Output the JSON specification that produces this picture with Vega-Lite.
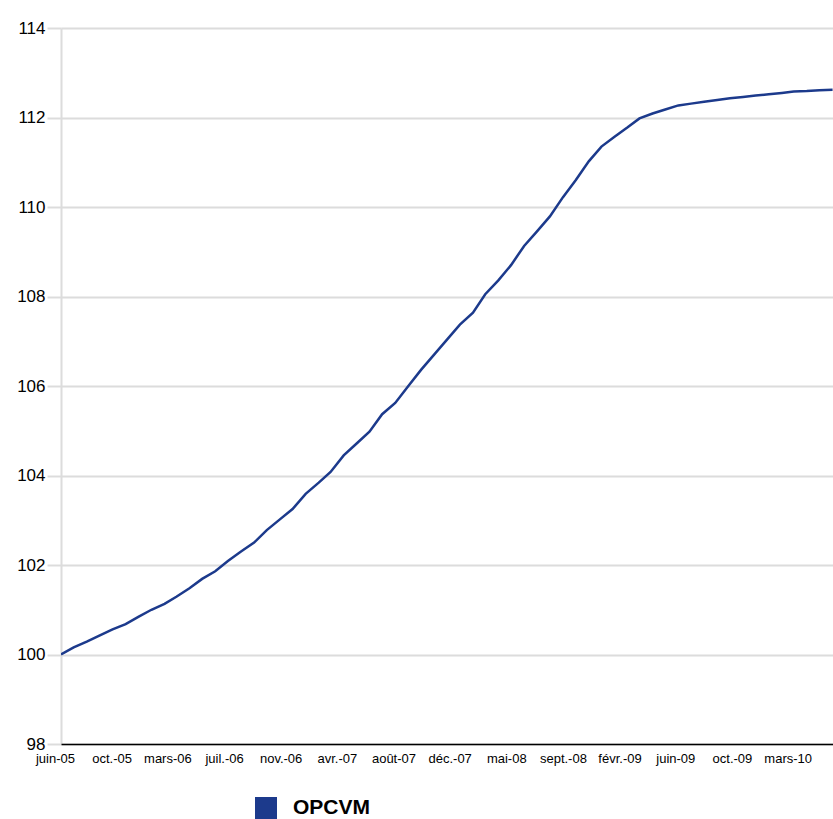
{
  "$schema": "https://vega.github.io/schema/vega-lite/v6.json",
  "width": 772,
  "height": 716,
  "autosize": {"type": "none"},
  "padding": {"left": 61, "top": 28, "right": 0, "bottom": 75},
  "background": "white",
  "config": {"view": {"stroke": null}, "font": "Liberation Sans"},
  "data": {"values": [
    {"date": "2005-06-09", "value": 100.00, "serie": "OPCVM"},
    {"date": "2005-07-09", "value": 100.16, "serie": "OPCVM"},
    {"date": "2005-08-09", "value": 100.29, "serie": "OPCVM"},
    {"date": "2005-09-09", "value": 100.43, "serie": "OPCVM"},
    {"date": "2005-10-09", "value": 100.56, "serie": "OPCVM"},
    {"date": "2005-11-09", "value": 100.68, "serie": "OPCVM"},
    {"date": "2005-12-09", "value": 100.84, "serie": "OPCVM"},
    {"date": "2006-01-09", "value": 101.00, "serie": "OPCVM"},
    {"date": "2006-02-09", "value": 101.13, "serie": "OPCVM"},
    {"date": "2006-03-09", "value": 101.29, "serie": "OPCVM"},
    {"date": "2006-04-09", "value": 101.48, "serie": "OPCVM"},
    {"date": "2006-05-09", "value": 101.69, "serie": "OPCVM"},
    {"date": "2006-06-09", "value": 101.86, "serie": "OPCVM"},
    {"date": "2006-07-09", "value": 102.09, "serie": "OPCVM"},
    {"date": "2006-08-09", "value": 102.30, "serie": "OPCVM"},
    {"date": "2006-09-09", "value": 102.50, "serie": "OPCVM"},
    {"date": "2006-10-09", "value": 102.78, "serie": "OPCVM"},
    {"date": "2006-11-09", "value": 103.02, "serie": "OPCVM"},
    {"date": "2006-12-09", "value": 103.25, "serie": "OPCVM"},
    {"date": "2007-01-09", "value": 103.59, "serie": "OPCVM"},
    {"date": "2007-02-09", "value": 103.84, "serie": "OPCVM"},
    {"date": "2007-03-09", "value": 104.08, "serie": "OPCVM"},
    {"date": "2007-04-09", "value": 104.45, "serie": "OPCVM"},
    {"date": "2007-05-09", "value": 104.71, "serie": "OPCVM"},
    {"date": "2007-06-09", "value": 104.98, "serie": "OPCVM"},
    {"date": "2007-07-09", "value": 105.37, "serie": "OPCVM"},
    {"date": "2007-08-09", "value": 105.62, "serie": "OPCVM"},
    {"date": "2007-09-09", "value": 106.00, "serie": "OPCVM"},
    {"date": "2007-10-09", "value": 106.36, "serie": "OPCVM"},
    {"date": "2007-11-09", "value": 106.70, "serie": "OPCVM"},
    {"date": "2007-12-09", "value": 107.03, "serie": "OPCVM"},
    {"date": "2008-01-09", "value": 107.37, "serie": "OPCVM"},
    {"date": "2008-02-09", "value": 107.64, "serie": "OPCVM"},
    {"date": "2008-03-09", "value": 108.05, "serie": "OPCVM"},
    {"date": "2008-04-09", "value": 108.36, "serie": "OPCVM"},
    {"date": "2008-05-09", "value": 108.70, "serie": "OPCVM"},
    {"date": "2008-06-09", "value": 109.13, "serie": "OPCVM"},
    {"date": "2008-07-09", "value": 109.45, "serie": "OPCVM"},
    {"date": "2008-08-09", "value": 109.79, "serie": "OPCVM"},
    {"date": "2008-09-09", "value": 110.22, "serie": "OPCVM"},
    {"date": "2008-10-09", "value": 110.60, "serie": "OPCVM"},
    {"date": "2008-11-09", "value": 111.02, "serie": "OPCVM"},
    {"date": "2008-12-09", "value": 111.35, "serie": "OPCVM"},
    {"date": "2009-01-09", "value": 111.57, "serie": "OPCVM"},
    {"date": "2009-02-09", "value": 111.78, "serie": "OPCVM"},
    {"date": "2009-03-09", "value": 111.98, "serie": "OPCVM"},
    {"date": "2009-04-09", "value": 112.09, "serie": "OPCVM"},
    {"date": "2009-05-09", "value": 112.18, "serie": "OPCVM"},
    {"date": "2009-06-09", "value": 112.27, "serie": "OPCVM"},
    {"date": "2009-07-09", "value": 112.31, "serie": "OPCVM"},
    {"date": "2009-08-09", "value": 112.35, "serie": "OPCVM"},
    {"date": "2009-09-09", "value": 112.39, "serie": "OPCVM"},
    {"date": "2009-10-09", "value": 112.43, "serie": "OPCVM"},
    {"date": "2009-11-09", "value": 112.46, "serie": "OPCVM"},
    {"date": "2009-12-09", "value": 112.49, "serie": "OPCVM"},
    {"date": "2010-01-09", "value": 112.52, "serie": "OPCVM"},
    {"date": "2010-02-09", "value": 112.55, "serie": "OPCVM"},
    {"date": "2010-03-09", "value": 112.58, "serie": "OPCVM"},
    {"date": "2010-04-09", "value": 112.59, "serie": "OPCVM"},
    {"date": "2010-05-09", "value": 112.61, "serie": "OPCVM"},
    {"date": "2010-06-09", "value": 112.62, "serie": "OPCVM"}
  ]},
  "mark": {"type": "line", "strokeWidth": 2.5, "clip": true},
  "encoding": {
    "x": {
      "field": "date",
      "type": "temporal",
      "scale": {"domain": [{"year": 2005, "month": 6, "date": 9}, {"year": 2010, "month": 6, "date": 10}]},
      "axis": {
        "title": null,
        "grid": false,
        "ticks": false,
        "tickSize": 0,
        "domainColor": "black",
        "domainWidth": 1.5,
        "labelFontSize": 13,
        "labelColor": "black",
        "labelPadding": 8,
        "labelOffset": -6,
        "labelFlush": false,
        "labelOverlap": false,
        "labelBound": false,
        "zindex": 1,
        "values": [
          {"year": 2005, "month": 6, "date": 9},
          {"year": 2005, "month": 10, "date": 21},
          {"year": 2006, "month": 3, "date": 2},
          {"year": 2006, "month": 7, "date": 14},
          {"year": 2006, "month": 11, "date": 25},
          {"year": 2007, "month": 4, "date": 7},
          {"year": 2007, "month": 8, "date": 19},
          {"year": 2007, "month": 12, "date": 30},
          {"year": 2008, "month": 5, "date": 12},
          {"year": 2008, "month": 9, "date": 23},
          {"year": 2009, "month": 2, "date": 4},
          {"year": 2009, "month": 6, "date": 16},
          {"year": 2009, "month": 10, "date": 28},
          {"year": 2010, "month": 3, "date": 9}
        ],
        "labelExpr": "['janv.','févr.','mars','avr.','mai','juin','juil.','août','sept.','oct.','nov.','déc.'][month(datum.value)] + '-' + timeFormat(datum.value, '%y')"
      }
    },
    "y": {
      "field": "value",
      "type": "quantitative",
      "scale": {"domain": [98, 114], "nice": false, "zero": false},
      "axis": {
        "title": null,
        "values": [98, 100, 102, 104, 106, 108, 110, 112, 114],
        "grid": true,
        "gridColor": "#dcdcdc",
        "gridWidth": 2,
        "domainColor": "#dcdcdc",
        "domainWidth": 2,
        "tickColor": "#dcdcdc",
        "tickWidth": 2,
        "tickSize": 14,
        "labelFontSize": 17,
        "labelColor": "black",
        "labelPadding": 2
      }
    },
    "color": {
      "field": "serie",
      "type": "nominal",
      "scale": {"range": ["#1c3a8c"]},
      "legend": {
        "title": null,
        "orient": "none",
        "legendX": 194,
        "legendY": 769,
        "padding": 0,
        "symbolType": "square",
        "symbolSize": 484,
        "symbolStrokeWidth": 0,
        "symbolFillColor": "#1c3a8c",
        "labelFontSize": 21,
        "labelFontWeight": "bold",
        "labelColor": "black",
        "labelOffset": 16,
        "encode": {"symbols": {"update": {"fill": {"value": "#1c3a8c"}, "stroke": {"value": "#1c3a8c"}, "strokeWidth": {"value": 0}, "opacity": {"value": 1}}}}
      }
    }
  }
}
